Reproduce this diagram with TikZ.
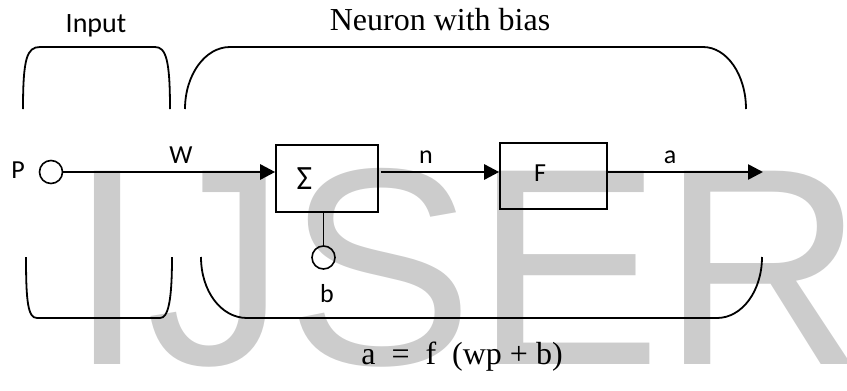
\documentclass[tikz,border=0pt]{standalone}
\usepackage{fontspec}
\setmainfont{Liberation Serif}
\newfontfamily\labelfont{Carlito}
\newfontfamily\markfont{Liberation Sans}
\usetikzlibrary{arrows.meta}
\definecolor{markgray}{HTML}{CCCCCC}
\tikzset{
block/.style={draw=black, line width=1.6pt, inner sep=0pt},
port/.style={circle, draw=black, line width=1.6pt, minimum size=23pt, inner sep=0pt},
wire/.style={-{Triangle[length=15pt,width=15pt]}, line width=2.6pt},
brace/.style={line width=1.8pt},
lbl/.style={font=\labelfont\fontsize{26}{30}\selectfont, anchor=base, inner sep=0pt},
caption/.style={font=\fontsize{32}{36}\selectfont, anchor=base, inner sep=0pt}
}

\begin{document}
\begin{tikzpicture}[x=1pt,y=-1pt]
% one unit = one pixel of the 847 x 391 canvas, y grows downwards
\useasboundingbox (0,0) rectangle (847,391);

% ── Watermark ───────────────────────────────────────────────
\node[font=\markfont\fontsize{281}{281}\selectfont,text=markgray,
 anchor=base west,inner sep=0pt] (mark) at (68,364) {IJSER};

% ── Group titles ────────────────────────────────────────────
\node[lbl,font=\labelfont\fontsize{28}{32}\selectfont] (input) at (96,32) {Input};
\node[caption] (neuron) at (440,30) {Neuron with bias};

% ── Brackets: input group ───────────────────────────────────
\draw[brace] (23,109) .. controls (23,58) and (27,47) .. (40,47)
 -- (155,47) .. controls (166,47) and (170,60) .. (170,109);
\draw[brace] (26,257) .. controls (26,302) and (28,318) .. (37,318)
 -- (160,318) .. controls (168,318) and (172,302) .. (172,257);

% ── Brackets: neuron group ──────────────────────────────────
\draw[brace] (185,109) .. controls (185,75) and (205,47) .. (230,47)
 -- (703,47) .. controls (727,47) and (746,75) .. (746,109);
\draw[brace] (201,257) .. controls (201,291) and (221,318) .. (247,318)
 -- (717,318) .. controls (742,318) and (762,291) .. (762,257);

% ── Blocks and ports ────────────────────────────────────────
\node[port] (pin) at (51,172) {};
\node[block,minimum width=102pt,minimum height=67pt] (sigma) at (327,178.5) {};
\node[block,minimum width=107pt,minimum height=66pt] (act) at (553.5,176) {};
\node[port] (bias) at (323.5,257.5) {};
\coordinate (out) at (763,172);

\node[lbl] (plbl) at (18,178) {P};
\node[lbl] (wlbl) at (181,163) {W};
\node[lbl,font=\labelfont\fontsize{34}{38}\selectfont] (sum) at (304.5,189) {Σ};
\node[lbl] (nlbl) at (426,163) {n};
\node[lbl] (flbl) at (540,181) {F};
\node[lbl] (albl) at (670,163) {a};
\node[lbl] (blbl) at (327,302) {b};

% ── Signal path ─────────────────────────────────────────────
\draw[wire] (pin.east) -- (pin.east -| sigma.west);
\draw[wire] ([xshift=2pt]sigma.east |- pin.center) -- (act.west |- pin.center);
\draw[wire] ([xshift=-2pt]act.east |- pin.center) -- (out);
\draw[line width=1.6pt] (bias.north) -- (bias.north |- sigma.south);

% ── Transfer equation ───────────────────────────────────────
\node[caption] (eqn) at (462,364) {a~~=~~f~~(wp + b)};
\end{tikzpicture}
\end{document}
